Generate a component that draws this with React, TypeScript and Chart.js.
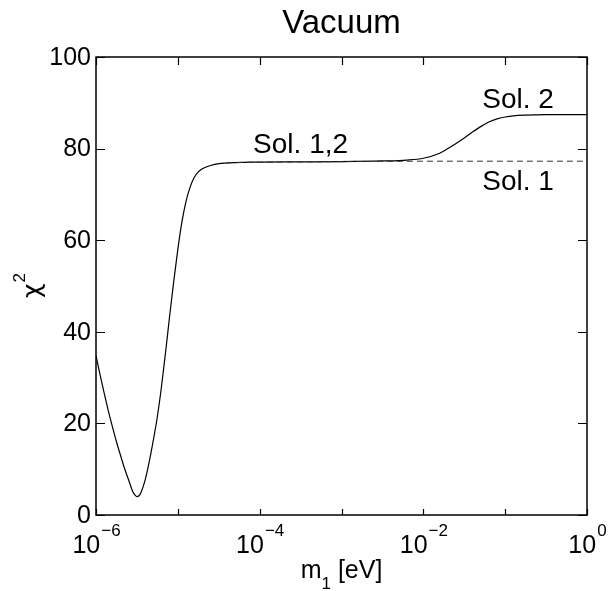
import React, { useEffect, useRef } from "react";
import { Chart, registerables } from "chart.js";

Chart.register(...registerables);

// log10(m1 / eV) sample positions and chi^2 values
const sol2Log10M = [
  -6.0, -5.95, -5.9, -5.85, -5.8, -5.75, -5.7, -5.65, -5.6, -5.55, -5.525, -5.5, -5.475, -5.45,
  -5.4, -5.35, -5.3, -5.25, -5.2, -5.15, -5.1, -5.05, -5.0, -4.95, -4.9, -4.85, -4.8, -4.75,
  -4.7, -4.6, -4.5, -4.3, -4.0, -3.5, -3.0, -2.5, -2.2, -2.0, -1.8, -1.7, -1.6, -1.5, -1.4,
  -1.3, -1.2, -1.1, -1.0, -0.9, -0.75, -0.5, 0.0,
];
const sol2Chi2 = [
  34.8, 30.6, 26.6, 22.8, 19.3, 16.0, 13.0, 10.1, 7.6, 5.1, 4.4, 4.0, 4.2, 4.9,
  7.6, 11.6, 16.3, 21.5, 28.0, 35.5, 43.5, 51.0, 58.0, 64.0, 68.5, 71.6, 73.7, 74.9,
  75.6, 76.3, 76.7, 76.95, 77.05, 77.1, 77.15, 77.3, 77.5, 77.9, 79.0, 80.0, 81.1, 82.3, 83.6,
  84.8, 85.8, 86.5, 86.9, 87.15, 87.3, 87.4, 87.4,
];
const sol1Log10M = [-4.4, -4.3, -4.0, -3.5, -3.0, -2.5, -2.0, -1.5, -1.0, -0.5, 0.0];
const sol1Chi2 = [76.85, 76.95, 77.05, 77.1, 77.15, 77.2, 77.25, 77.25, 77.25, 77.25, 77.25];

const yTicks = [0, 20, 40, 60, 80, 100];
const xTickExps = [-6, -5, -4, -3, -2, -1, 0];
const xLabelExps = [-6, -4, -2, 0];

const titleText = "Vacuum";
const curveLabels = ["Sol. 1,2", "Sol. 2", "Sol. 1"];
const curveLabelLog10M = [-4.08, -1.28, -1.28];
const curveLabelChi2 = [79.0, 88.8, 71.0];

const FONT = '"Liberation Sans", Arial, sans-serif';

const overlay = {
  id: "overlay",
  afterDraw(chart: any) {
    const { ctx, chartArea } = chart;
    const xs = chart.scales.x;
    const ys = chart.scales.y;
    const { left, right, top, bottom } = chartArea;
    ctx.save();
    ctx.strokeStyle = "#000";
    ctx.fillStyle = "#000";
    // frame
    ctx.lineWidth = 1.5;
    ctx.strokeRect(left, top, right - left, bottom - top);
    // ticks
    ctx.lineWidth = 1.2;
    ctx.beginPath();
    for (const v of yTicks) {
      const y = Math.round(ys.getPixelForValue(v)) + 0.5;
      ctx.moveTo(left, y);
      ctx.lineTo(left + 9, y);
      ctx.moveTo(right, y);
      ctx.lineTo(right - 9, y);
    }
    for (const e of xTickExps) {
      const x = Math.round(xs.getPixelForValue(Math.pow(10, e))) + 0.5;
      ctx.moveTo(x, bottom);
      ctx.lineTo(x, bottom - 6);
      ctx.moveTo(x, top);
      ctx.lineTo(x, top + 8);
    }
    ctx.stroke();

    // y tick labels
    ctx.font = `25px ${FONT}`;
    ctx.textAlign = "right";
    ctx.textBaseline = "middle";
    for (const v of yTicks) {
      ctx.fillText(String(v), left - 5, ys.getPixelForValue(v) + 1);
    }

    // x tick labels 10^e
    ctx.textBaseline = "alphabetic";
    ctx.textAlign = "left";
    for (const e of xLabelExps) {
      const x = xs.getPixelForValue(Math.pow(10, e));
      const base = "10";
      const sup = e < 0 ? "\u2212" + String(-e) : String(e);
      ctx.font = `25px ${FONT}`;
      const wb = ctx.measureText(base).width;
      ctx.font = `17px ${FONT}`;
      const ws = ctx.measureText(sup).width;
      const x0 = x - (wb + ws) / 2;
      ctx.font = `25px ${FONT}`;
      ctx.fillText(base, x0, bottom + 38);
      ctx.font = `17px ${FONT}`;
      ctx.fillText(sup, x0 + wb + 1, bottom + 21);
    }

    // x axis title m_1 [eV]
    {
      const cx = (left + right) / 2;
      const baseY = bottom + 63;
      ctx.font = `25px ${FONT}`;
      const wm = ctx.measureText("m").width;
      const wr = ctx.measureText(" [eV]").width;
      ctx.font = `17px ${FONT}`;
      const w1 = ctx.measureText("1").width;
      const x0 = cx - (wm + w1 + wr) / 2;
      ctx.font = `25px ${FONT}`;
      ctx.fillText("m", x0, baseY);
      ctx.fillText(" [eV]", x0 + wm + w1, baseY);
      ctx.font = `17px ${FONT}`;
      ctx.fillText("1", x0 + wm, baseY + 11);
    }

    // y axis title chi^2
    {
      const cy = (top + bottom) / 2;
      ctx.save();
      ctx.translate(40, cy);
      ctx.rotate(-Math.PI / 2);
      ctx.font = `25px "DejaVu Sans", ${FONT}`;
      const wc = ctx.measureText("\u03c7").width;
      ctx.font = `17px ${FONT}`;
      const w2 = ctx.measureText("2").width;
      const x0 = -(wc + w2) / 2;
      ctx.font = `25px "DejaVu Sans", ${FONT}`;
      ctx.fillText("\u03c7", x0, 0);
      ctx.font = `17px ${FONT}`;
      ctx.fillText("2", x0 + wc + 1, -15);
      ctx.restore();
    }

    // title
    ctx.font = `33px ${FONT}`;
    ctx.textAlign = "center";
    ctx.fillText(titleText, (left + right) / 2, 33);

    // curve labels
    ctx.font = `28px ${FONT}`;
    ctx.textAlign = "left";
    curveLabels.forEach((t, i) => {
      ctx.fillText(
        t,
        xs.getPixelForValue(Math.pow(10, curveLabelLog10M[i])),
        ys.getPixelForValue(curveLabelChi2[i])
      );
    });
    ctx.restore();
  },
};

export default function App() {
  const ref = useRef<HTMLCanvasElement | null>(null);
  useEffect(() => {
    document.body.style.margin = "0";
    const canvas = ref.current;
    if (!canvas) return;
    const chart = new Chart(canvas, {
      type: "line",
      data: {
        datasets: [
          {
            label: "Sol. 1",
            data: sol1Log10M.map((e, i) => ({ x: Math.pow(10, e), y: sol1Chi2[i] })),
            borderColor: "#333",
            borderWidth: 1,
            borderDash: [6, 4],
            pointRadius: 0,
            fill: false,
            cubicInterpolationMode: "monotone",
          },
          {
            label: "Sol. 2",
            data: sol2Log10M.map((e, i) => ({ x: Math.pow(10, e), y: sol2Chi2[i] })),
            borderColor: "#000",
            borderWidth: 1.2,
            pointRadius: 0,
            fill: false,
            cubicInterpolationMode: "monotone",
          },
        ],
      },
      options: {
        animation: false,
        responsive: false,
        events: [],
        layout: { padding: { left: 96, right: 23, top: 57, bottom: 76 } },
        plugins: { legend: { display: false }, tooltip: { enabled: false }, title: { display: false } },
        scales: {
          x: { type: "logarithmic", min: 1e-6, max: 1, display: false },
          y: { type: "linear", min: 0, max: 100, display: false },
        },
      },
      plugins: [overlay],
    });
    return () => chart.destroy();
  }, []);
  return (
    <div style={{ width: 610, height: 591, background: "#fff" }}>
      <canvas ref={ref} width={610} height={591} style={{ display: "block" }} />
    </div>
  );
}
